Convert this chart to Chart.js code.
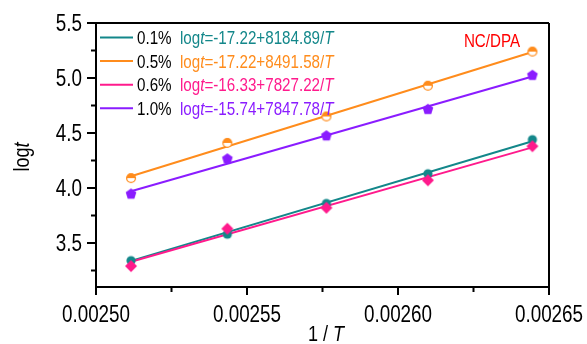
<!DOCTYPE html>
<html>
<head>
<meta charset="utf-8">
<script src="https://cdn.jsdelivr.net/npm/chart.js@4.4.0/dist/chart.umd.min.js"></script>
<style>
  html, body { margin: 0; padding: 0; background: #fff; }
  canvas { display: block; }
</style>
</head>
<body>
<canvas id="chart" width="587" height="344"></canvas>
<script>
// 1/T for the five test temperatures (398, 393, 388, 383, 378 K)
const invT = [0.0025116, 0.0025435, 0.0025763, 0.0026099, 0.0026445];

const contents = ["0.1%", "0.5%", "0.6%", "1.0%"];
const logt01 = [3.34, 3.58, 3.86, 4.13, 4.44];
const logt05 = [4.09, 4.41, 4.65, 4.93, 5.24];
const logt06 = [3.29, 3.63, 3.82, 4.07, 4.38];
const logt10 = [3.95, 4.27, 4.48, 4.72, 5.03];

// linear fits: logt = a + b / T
const fitA = [-17.22, -17.22, -16.33, -15.74];
const fitB = [8184.89, 8491.58, 7827.22, 7847.78];

const xTicks = [0.0025, 0.00255, 0.0026, 0.00265];
const yTicks = [3.5, 4.0, 4.5, 5.0, 5.5];

const colors = ["#13878a", "#ff8c1c", "#ff1a8c", "#8a1cff"];
const FONT = '"Liberation Sans", Arial, sans-serif';
const SQUEEZE = 0.82; // narrow lettering

function marker(size, draw) {
  const c = document.createElement("canvas");
  c.width = c.height = size;
  const g = c.getContext("2d");
  draw(g, size / 2);
  return c;
}

const markers = [
  marker(12, (g, m) => {
    g.fillStyle = colors[0];
    g.beginPath(); g.arc(m, m, 4.6, 0, Math.PI * 2); g.fill();
  }),
  marker(12, (g, m) => {
    g.fillStyle = "#fff";
    g.beginPath(); g.arc(m, m, 4.4, 0, Math.PI * 2); g.fill();
    g.fillStyle = colors[1];
    g.beginPath(); g.arc(m, m, 4.4, Math.PI, 0); g.closePath(); g.fill();
    g.strokeStyle = colors[1]; g.lineWidth = 1.3;
    g.beginPath(); g.arc(m, m, 4.4, 0, Math.PI * 2); g.stroke();
  }),
  marker(14, (g, m) => {
    g.fillStyle = colors[2];
    g.beginPath();
    g.moveTo(m, m - 6); g.lineTo(m + 6, m); g.lineTo(m, m + 6); g.lineTo(m - 6, m);
    g.closePath(); g.fill();
  }),
  marker(14, (g, m) => {
    g.fillStyle = colors[3];
    g.beginPath();
    for (let k = 0; k < 5; k++) {
      const a = -Math.PI / 2 + k * 2 * Math.PI / 5;
      g.lineTo(m + 5.6 * Math.cos(a), m + 0.6 + 5.6 * Math.sin(a));
    }
    g.closePath(); g.fill();
  })
];

const series = [logt01, logt05, logt06, logt10];
const datasets = [];
series.forEach((vals, i) => {
  const x0 = invT[0], x1 = invT[invT.length - 1];
  datasets.push({
    label: contents[i] + " fit",
    showLine: true,
    data: [{ x: x0, y: fitA[i] + fitB[i] * x0 }, { x: x1, y: fitA[i] + fitB[i] * x1 }],
    borderColor: colors[i],
    borderWidth: 2,
    pointRadius: 0,
    order: 2.4 - i * 0.1
  });
  datasets.push({
    label: contents[i],
    data: invT.map((x, k) => ({ x, y: vals[k] })),
    pointStyle: markers[i],
    showLine: false,
    order: 1.4 - i * 0.1
  });
});

// draws [text, italic] runs squeezed horizontally, anchored at x by align
function text(ctx, parts, x, y, size, align = "left") {
  const font = (it) => (it ? "italic " : "") + size + "px " + FONT;
  let w = 0;
  parts.forEach(([s, it]) => { ctx.font = font(it); w += ctx.measureText(s).width; });
  w *= SQUEEZE;
  const start = align === "center" ? x - w / 2 : align === "right" ? x - w : x;
  ctx.save();
  ctx.translate(start, y);
  ctx.scale(SQUEEZE, 1);
  ctx.textAlign = "left";
  ctx.textBaseline = "alphabetic";
  let cx = 0;
  parts.forEach(([s, it]) => {
    ctx.font = font(it);
    ctx.fillText(s, cx, 0);
    cx += ctx.measureText(s).width;
  });
  ctx.restore();
}

const decor = {
  id: "decor",
  afterDraw(chart) {
    const ctx = chart.ctx;
    const xs = chart.scales.x, ys = chart.scales.y;
    const a = chart.chartArea;
    ctx.save();
    ctx.strokeStyle = "#000";
    ctx.lineWidth = 2;
    ctx.beginPath();
    ctx.moveTo(a.left, a.top); ctx.lineTo(a.right, a.top);
    ctx.moveTo(a.right, a.top); ctx.lineTo(a.right, a.bottom);
    ctx.moveTo(a.left, a.top); ctx.lineTo(a.left, a.bottom);
    ctx.moveTo(a.left - 1, a.bottom); ctx.lineTo(a.right + 1, a.bottom);
    ctx.stroke();

    // major and minor ticks
    ctx.beginPath();
    xs.ticks.forEach((t, k) => {
      const px = xs.getPixelForValue(t.value);
      ctx.moveTo(px, a.bottom); ctx.lineTo(px, a.bottom + 8);
      if (k < xs.ticks.length - 1) {
        const pm = xs.getPixelForValue((t.value + xs.ticks[k + 1].value) / 2);
        ctx.moveTo(pm, a.bottom); ctx.lineTo(pm, a.bottom + 5);
      }
    });
    ys.ticks.forEach((t) => {
      const py = ys.getPixelForValue(t.value);
      ctx.moveTo(a.left, py); ctx.lineTo(a.left - 9, py);
      const below = t.value - 0.25;
      if (below >= ys.min) {
        const pm = ys.getPixelForValue(below);
        ctx.moveTo(a.left, pm); ctx.lineTo(a.left - 5, pm);
      }
    });
    ctx.stroke();

    // tick labels
    ctx.fillStyle = "#000";
    xs.ticks.forEach((t) => {
      text(ctx, [[t.value.toFixed(5), false]], xs.getPixelForValue(t.value), 322, 23, "center");
    });
    ys.ticks.forEach((t) => {
      text(ctx, [[t.value.toFixed(1), false]], 82, ys.getPixelForValue(t.value) + 8.3, 23, "right");
    });

    // legend rows
    contents.forEach((c, i) => {
      const y = 37.5 + i * 23.6;
      ctx.strokeStyle = colors[i];
      ctx.lineWidth = 2;
      ctx.beginPath(); ctx.moveTo(100, y); ctx.lineTo(133, y); ctx.stroke();
      ctx.fillStyle = "#000";
      text(ctx, [[c, false]], 137, y + 6.5, 18.5);
      ctx.fillStyle = colors[i];
      text(ctx, [["log", false], ["t", true],
        ["=" + fitA[i].toFixed(2) + "+" + fitB[i].toFixed(2) + "/", false], ["T", true]], 180, y + 6.5, 18.5);
    });

    ctx.fillStyle = "#ff0000";
    text(ctx, [["NC/DPA", false]], 492, 47, 18.5, "center");

    // axis titles
    ctx.fillStyle = "#000";
    text(ctx, [["1 / ", false], ["T", true]], 326, 341, 22, "center");
    ctx.translate(29, 157);
    ctx.rotate(-Math.PI / 2);
    text(ctx, [["log", false], ["t", true]], 0, 0, 22, "center");
    ctx.restore();
  }
};

new Chart(document.getElementById("chart"), {
  type: "scatter",
  data: { datasets },
  options: {
    responsive: false,
    animation: false,
    events: [],
    layout: { autoPadding: false, padding: { top: 23, right: 38, left: 0, bottom: 0 } },
    plugins: { legend: { display: false }, tooltip: { enabled: false } },
    scales: {
      x: {
        type: "linear",
        min: 0.0025,
        max: 0.00265,
        grid: { display: false, drawTicks: false },
        border: { display: false },
        afterBuildTicks: (s) => { s.ticks = xTicks.map((v) => ({ value: v })); },
        afterFit: (s) => { s.height = 57; },
        ticks: { display: false }
      },
      y: {
        type: "linear",
        min: 3.1,
        max: 5.5,
        grid: { display: false, drawTicks: false },
        border: { display: false },
        afterBuildTicks: (s) => { s.ticks = yTicks.map((v) => ({ value: v })); },
        afterFit: (s) => { s.width = 96; },
        ticks: { display: false }
      }
    }
  },
  plugins: [decor]
});
</script>
</body>
</html>
